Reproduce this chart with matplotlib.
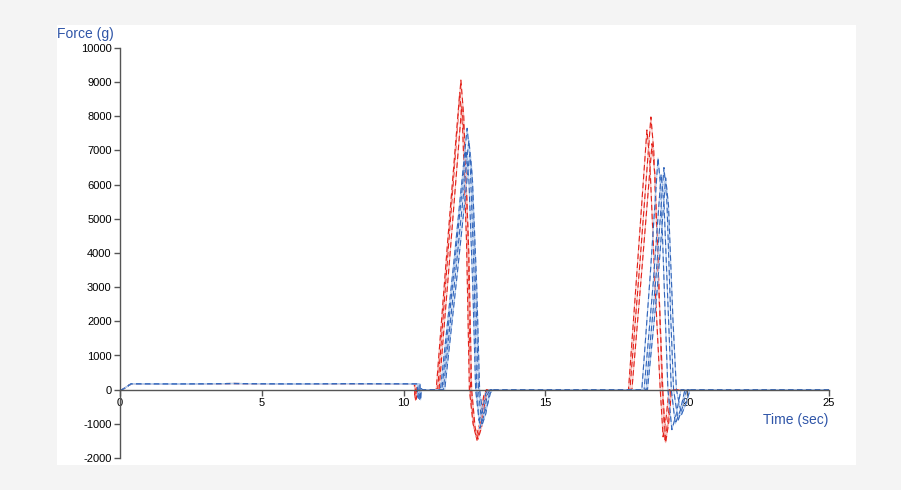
import matplotlib
matplotlib.use("Agg")
import matplotlib.pyplot as plt
from matplotlib.patches import Rectangle

plt.rcParams["font.family"] = ["Liberation Sans", "DejaVu Sans"]
plt.rcParams["axes.unicode_minus"] = False

# ---- data: force traces (time in sec, force in g) ----
plateau_t = [0.0, 0.08, 0.4, 2.0, 4.0, 6.0, 8.0, 10.0]
plateau_f = [0, 0, 175, 170, 180, 172, 178, 175]

red_a_t = plateau_t + [10.40, 10.42, 10.46, 10.50, 11.20, 11.60, 12.02, 12.12, 12.27, 12.36, 12.47, 12.59, 12.72, 12.85, 12.95,
                       17.98, 18.35, 18.72, 18.82, 19.00, 19.12, 19.22, 19.32, 19.42, 25.0]
red_a_f = plateau_f + [175, -300, 60, 0, 0, 4400, 9060, 8000, 4500, 0, -1050, -1480, -1050, -250, 0,
                       0, 3900, 7980, 7000, 3000, 0, -1520, -900, 0, 0]

red_b_t = plateau_t + [10.38, 10.40, 10.44, 10.48, 11.15, 11.55, 11.98, 12.08, 12.22, 12.32, 12.45, 12.56, 12.70, 12.82, 12.92,
                       17.93, 18.25, 18.58, 18.68, 18.88, 19.05, 19.15, 19.26, 19.36, 25.0]
red_b_f = plateau_f + [170, -250, 50, 0, 0, 4300, 8700, 7700, 4300, 0, -1000, -1380, -950, -200, 0,
                       0, 3700, 7600, 6700, 2800, 0, -1380, -800, 0, 0]

red_c_t = plateau_t + [10.42, 10.44, 10.48, 10.52, 11.25, 11.65, 12.05, 12.15, 12.30, 12.40, 12.52, 12.62, 12.75, 12.88, 12.98,
                       18.05, 18.40, 18.76, 18.86, 19.02, 19.14, 19.24, 19.35, 19.45, 25.0]
red_c_f = plateau_f + [178, -280, 40, 0, 0, 4100, 8300, 7400, 4000, 0, -1100, -1450, -1100, -300, 0,
                       0, 3500, 7200, 6300, 2600, 0, -1550, -950, 0, 0]

blue_a_t = plateau_t + [10.50, 10.52, 10.56, 10.60, 11.30, 11.78, 12.24, 12.34, 12.48, 12.58, 12.69, 12.82, 12.95, 13.05,
                        18.40, 18.70, 18.97, 19.07, 19.22, 19.32, 19.46, 19.62, 19.78, 25.0]
blue_a_f = plateau_f + [175, -250, 30, 0, 0, 3800, 7650, 6800, 3500, 0, -1130, -800, -150, 0,
                        0, 3400, 6780, 5900, 2300, 0, -1170, -700, 0, 0]

blue_b_t = plateau_t + [10.55, 10.57, 10.60, 10.64, 11.40, 11.86, 12.30, 12.40, 12.54, 12.64, 12.76, 12.90, 13.02, 13.10,
                        18.55, 18.90, 19.18, 19.28, 19.42, 19.52, 19.68, 19.84, 19.98, 25.0]
blue_b_f = plateau_f + [172, -280, 40, 0, 0, 3650, 7300, 6500, 3300, 0, -1050, -700, -120, 0,
                        0, 3300, 6500, 5600, 2100, 0, -900, -500, 0, 0]

blue_c_t = plateau_t + [10.48, 10.50, 10.54, 10.58, 11.35, 11.78, 12.20, 12.30, 12.44, 12.54, 12.66, 12.78, 12.90, 13.00,
                        18.48, 18.80, 19.08, 19.18, 19.34, 19.44, 19.58, 19.76, 19.92, 25.0]
blue_c_f = plateau_f + [176, -220, 30, 0, 0, 3500, 7000, 6200, 3000, 0, -900, -600, -100, 0,
                        0, 3100, 6300, 5500, 2100, 0, -1000, -600, 0, 0]

blue_d_t = plateau_t + [10.58, 10.60, 10.63, 10.66, 11.45, 11.90, 12.33, 12.43, 12.58, 12.68, 12.80, 12.94, 13.06, 13.15,
                        18.60, 18.95, 19.24, 19.34, 19.50, 19.62, 19.80, 19.96, 20.10, 25.0]
blue_d_f = plateau_f + [170, -300, 30, 0, 0, 3450, 6900, 6100, 3000, 0, -750, -500, -100, 0,
                        0, 3000, 6200, 5400, 2000, 0, -730, -400, 0, 0]

red_traces = [(red_a_t, red_a_f), (red_b_t, red_b_f), (red_c_t, red_c_f)]
blue_traces = [(blue_a_t, blue_a_f), (blue_b_t, blue_b_f), (blue_c_t, blue_c_f), (blue_d_t, blue_d_f)]

x_ticks = [0, 5, 10, 15, 20, 25]
y_ticks = list(range(-2000, 10001, 1000))

# ---- figure ----
fig = plt.figure(figsize=(9.01, 4.90), dpi=100)
fig.patch.set_facecolor("#f4f4f4")
fig.patches.append(Rectangle((57 / 901, 1 - 465 / 490), 799 / 901, 440 / 490,
                             transform=fig.transFigure, facecolor="white", edgecolor="none", zorder=-5))

ax = fig.add_axes([120 / 901, 1 - 458 / 490, 709 / 901, 410 / 490])
ax.set_zorder(2)
ax.set_facecolor("none")

# light base line + darker dashes on top gives the two-tone look of the original
for t, f in red_traces:
    ax.plot(t, f, color="#f7b8b3", lw=0.8)
    ax.plot(t, f, color="#e3221b", lw=0.8, dashes=(5, 3))
for t, f in blue_traces:
    ax.plot(t, f, color="#b5cdee", lw=0.8)
    ax.plot(t, f, color="#3366bb", lw=0.8, dashes=(5, 3))

ax.set_xlim(0, 25)
ax.set_ylim(-2000, 10000)
ax.set_xticks(x_ticks)
ax.set_yticks(y_ticks)
ax.tick_params(axis="both", direction="out", length=4, width=1, color="#555555", labelsize=8, pad=2)

ax.spines["top"].set_visible(False)
ax.spines["right"].set_visible(False)
ax.spines["bottom"].set_position(("data", 0))
for s in ("left", "bottom"):
    ax.spines[s].set_color("#555555")
    ax.spines[s].set_linewidth(1)

fig.text(57 / 901, 1 - 34 / 490, "Force (g)", color="#2f55a8", fontsize=10, va="center", ha="left")
fig.text(828 / 901, 1 - 420 / 490, "Time (sec)", color="#2f55a8", fontsize=10, va="center", ha="right")

fig.savefig("out.png", dpi=100, facecolor=fig.get_facecolor())
